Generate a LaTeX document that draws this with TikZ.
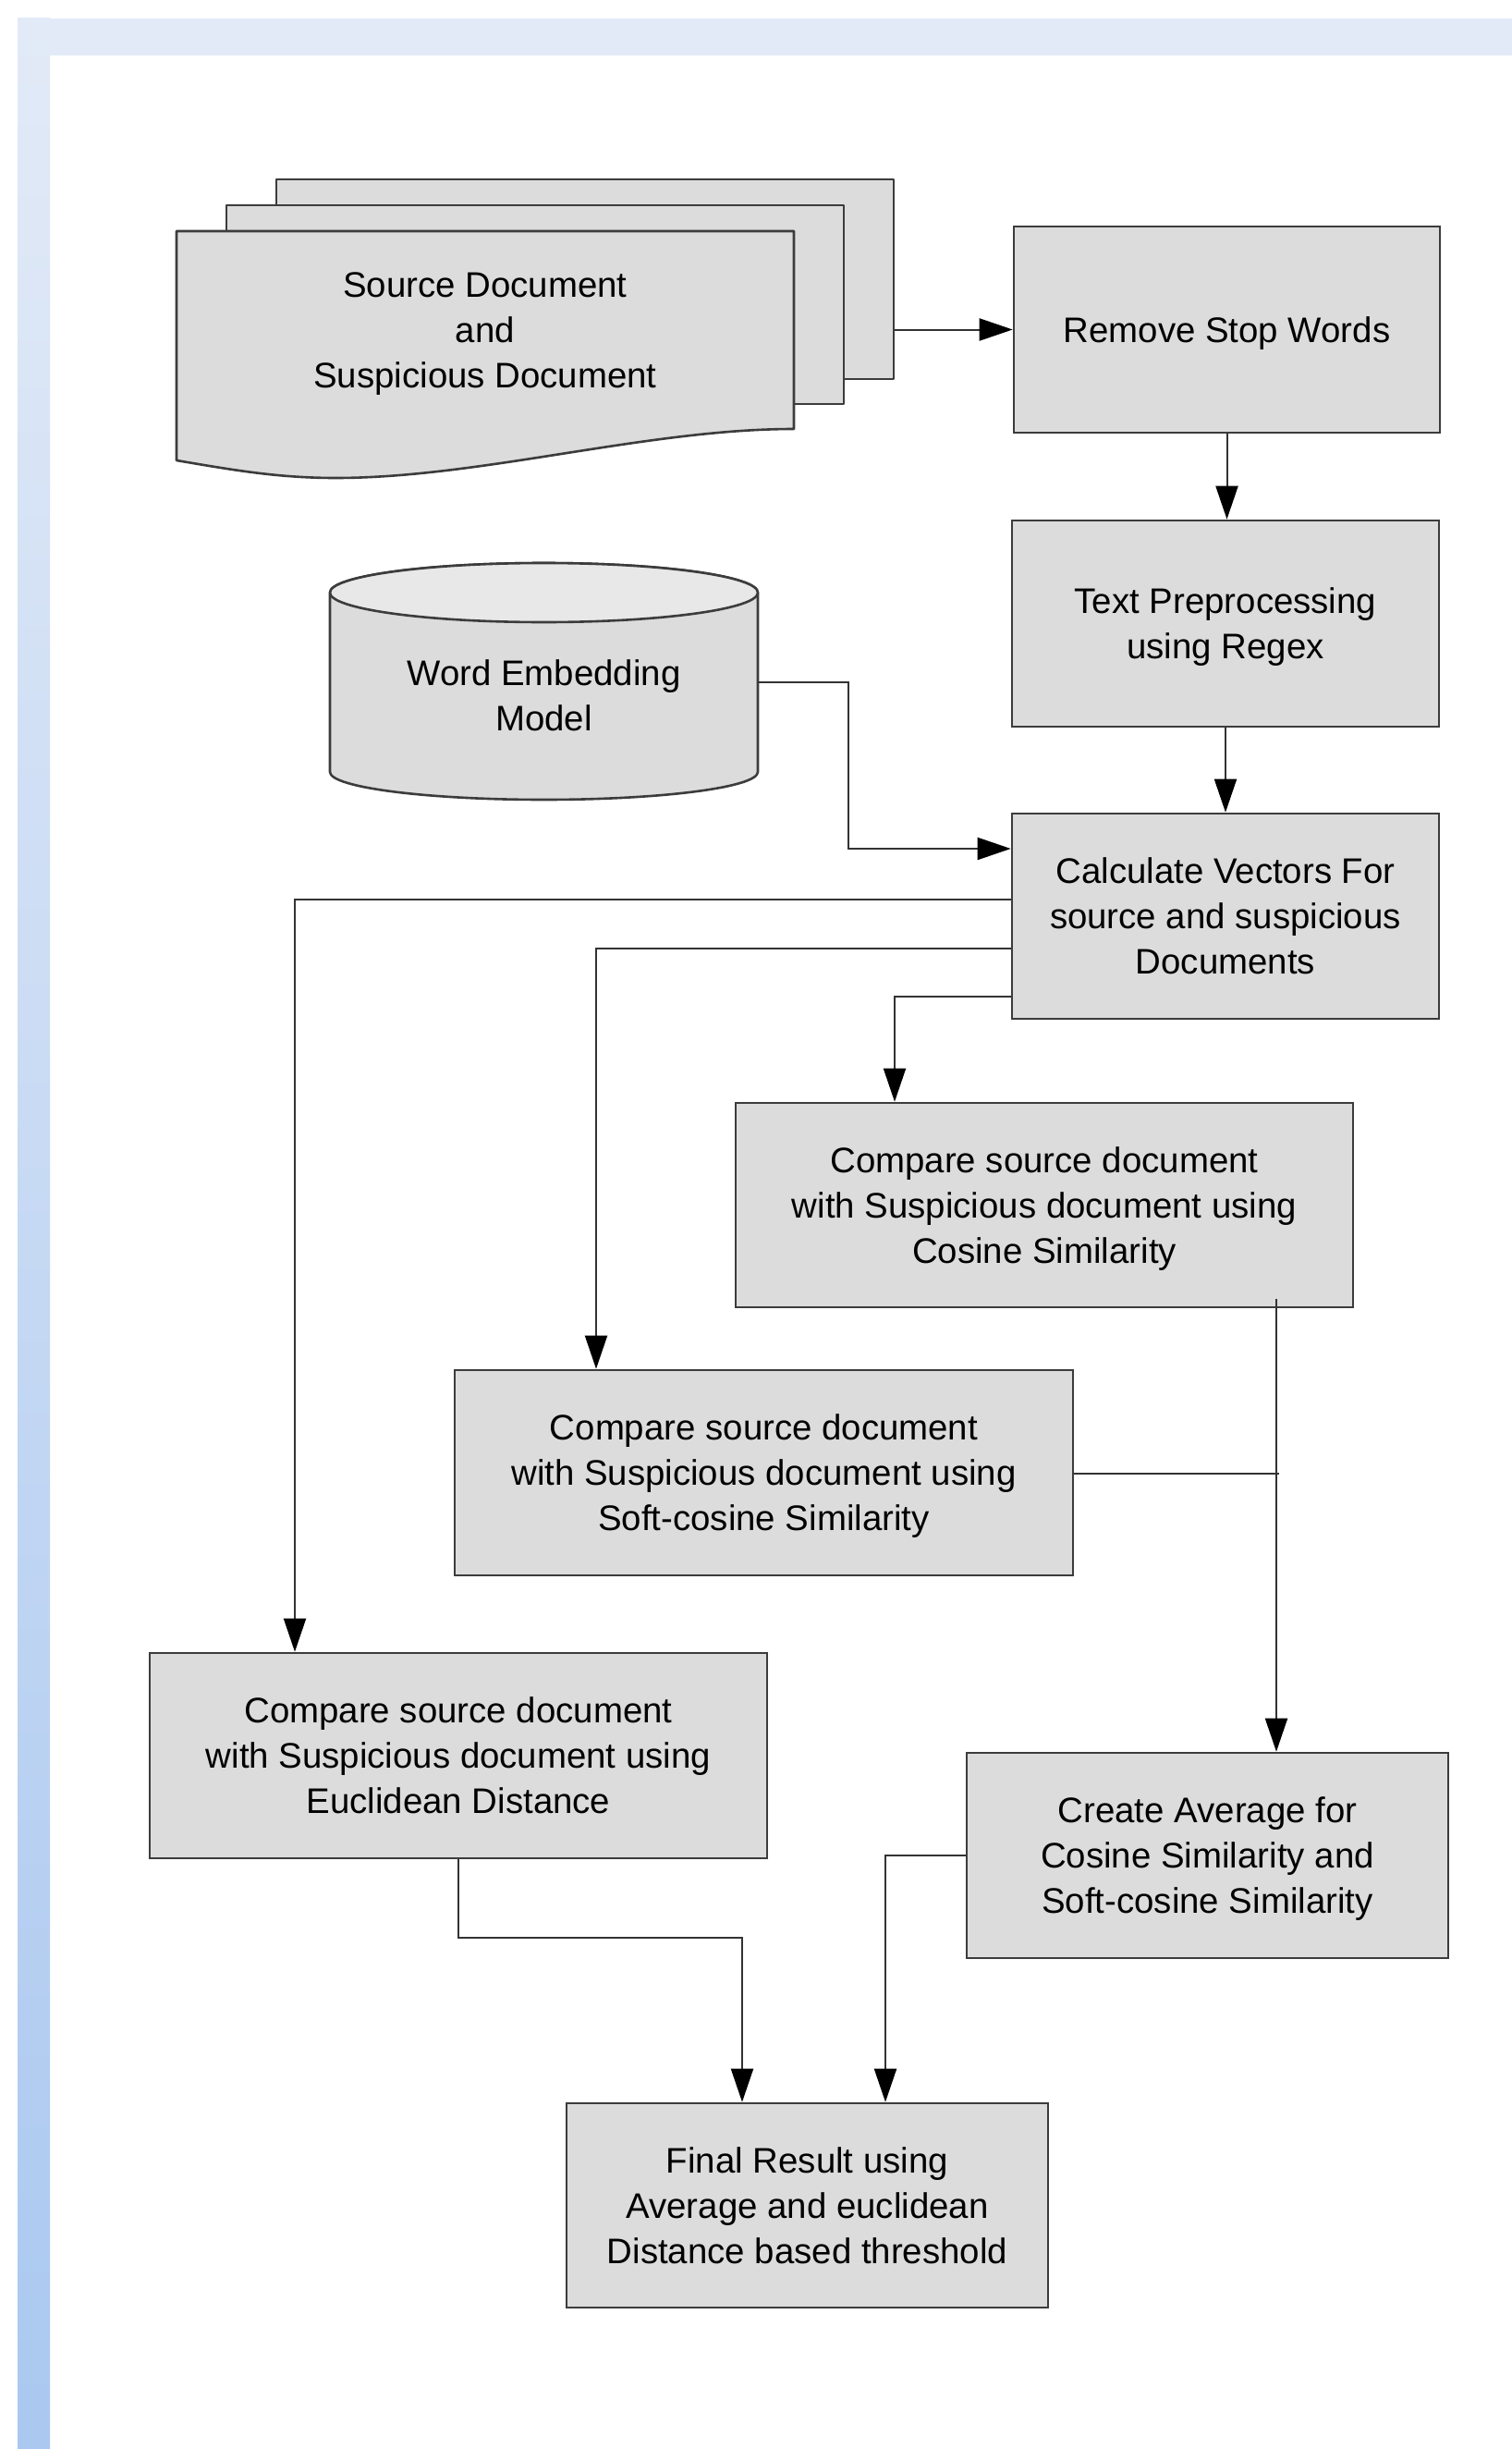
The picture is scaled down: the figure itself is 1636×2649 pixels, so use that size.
\documentclass[tikz,border=0pt]{standalone}
\usepackage{fontspec}
\setmainfont{Liberation Sans}
\usetikzlibrary{arrows.meta,calc}
\definecolor{boxfill}{HTML}{DCDCDC}
\definecolor{boxline}{HTML}{3C3C3C}
\definecolor{linecol}{HTML}{333333}
\definecolor{bandtop}{HTML}{E2EAF7}
\definecolor{bandbot}{HTML}{AAC8F0}
\definecolor{cyltop}{HTML}{E8E8E8}
\begin{document}
\begin{tikzpicture}[x=0.5pt,y=-0.5pt,
  box/.style={draw=boxline, fill=boxfill, line width=1.3pt, align=center, inner sep=0pt,
              text depth=0pt, font=\fontsize{19.2}{24.5}\selectfont},
  lbl/.style={align=center, inner sep=0pt, text depth=0pt, font=\fontsize{19.2}{24.5}\selectfont},
  shp/.style={draw=boxline, fill=boxfill, line width=1.3pt, line join=round},
  conn/.style={draw=linecol, line width=1pt},
  arr/.style={conn, -{Triangle[length=18pt,width=12pt,color=black]}},
]
% background and frame
\fill[white] (0,0) rectangle (1636,2649);
\fill[bandtop] (19,20) rectangle (1636,60);
\shade[top color=bandtop, bottom color=bandbot] (19,20) rectangle (54,2649);
\useasboundingbox (0,0) rectangle (1636,2649);

% document stack
\node[shp, minimum width=334pt, minimum height=108pt, inner sep=0pt] (back) at (633,302) {};
\node[shp, minimum width=334pt, minimum height=107.5pt, inner sep=0pt] (mid) at (579,329.5) {};
\path[shp] (191,250) -- (859,250) -- (859,464)
  .. controls (700,464) and (520,517) .. (363,517)
  .. controls (300,517) and (250,508) .. (191,498) -- cycle;
\node[lbl] (doc) at (525,357) {Source Document\\and\\Suspicious Document};

% cylinder
\path[shp] (357,641) -- (357,835)
  arc[start angle=180, end angle=360, x radius=115.75pt, y radius=15pt]
  -- (820,641)
  arc[start angle=0, end angle=180, x radius=115.75pt, y radius=16pt] -- cycle;
\path[shp, fill=cyltop] (588.5,641) ellipse[x radius=115.75pt, y radius=16pt];
\node[minimum width=231.5pt, minimum height=97pt, inner sep=0pt] (cyl) at (588.5,738) {};
\node[lbl] (cyltext) at (588.5,752) {Word Embedding\\Model};

% process boxes
\node[box, minimum width=230.5pt, minimum height=111.5pt] (rsw) at (1327.5,356.5) {Remove Stop Words};
\node[box, minimum width=231pt, minimum height=111.5pt] (tp) at (1326,674.5) {Text Preprocessing\\using Regex};
\node[box, minimum width=231pt, minimum height=111pt] (calc) at (1326,991) {Calculate Vectors For\\source and suspicious\\Documents};
\node[box, minimum width=334pt, minimum height=110.5pt] (cos) at (1130,1303.5) {Compare source document\\with Suspicious document using\\Cosine Similarity};
\node[box, minimum width=334.5pt, minimum height=111pt] (soft) at (826.5,1593) {Compare source document\\with Suspicious document using\\Soft-cosine Similarity};
\node[box, minimum width=334pt, minimum height=111pt] (euc) at (496,1899) {Compare source document\\with Suspicious document using\\Euclidean Distance};
\node[box, minimum width=260.5pt, minimum height=111pt] (avg) at (1306.5,2007) {Create Average for\\Cosine Similarity and\\Soft-cosine Similarity};
\node[box, minimum width=260.5pt, minimum height=110.5pt] (fin) at (873.5,2385.5) {Final Result using\\Average and euclidean\\Distance based threshold};

% connectors
\draw[arr] (back.east |- rsw.west) -- (rsw.west);
\draw[arr] (rsw.south) -- (rsw.south |- tp.north);
\draw[arr] (tp.south) -- (tp.south |- calc.north);
\coordinate (k1) at (918,918);
\draw[arr] (cyl.east) -| (k1) -- (k1 -| calc.west);
\draw[arr] ([yshift=9pt]calc.west) -| ([xshift=-88.5pt]euc.north);
\draw[arr] ([yshift=-17.5pt]calc.west) -| ([xshift=-90.75pt]soft.north);
\draw[arr] ([yshift=-43.5pt]calc.west) -| ([xshift=-81pt]cos.north);
\coordinate (j1) at (1381,1594);
\draw[arr] ([xshift=125.5pt,yshift=5pt]cos.south) -- ([xshift=125.5pt]cos.south |- avg.north);
\draw[conn] (soft.east |- j1) -- ([xshift=1.5pt]j1);
\coordinate (e1) at (803,2096);
\draw[arr] (euc.south) |- (e1) -- (e1 |- fin.north);
\draw[arr] (avg.west) -| ([xshift=42.25pt]fin.north);
\end{tikzpicture}
\end{document}
